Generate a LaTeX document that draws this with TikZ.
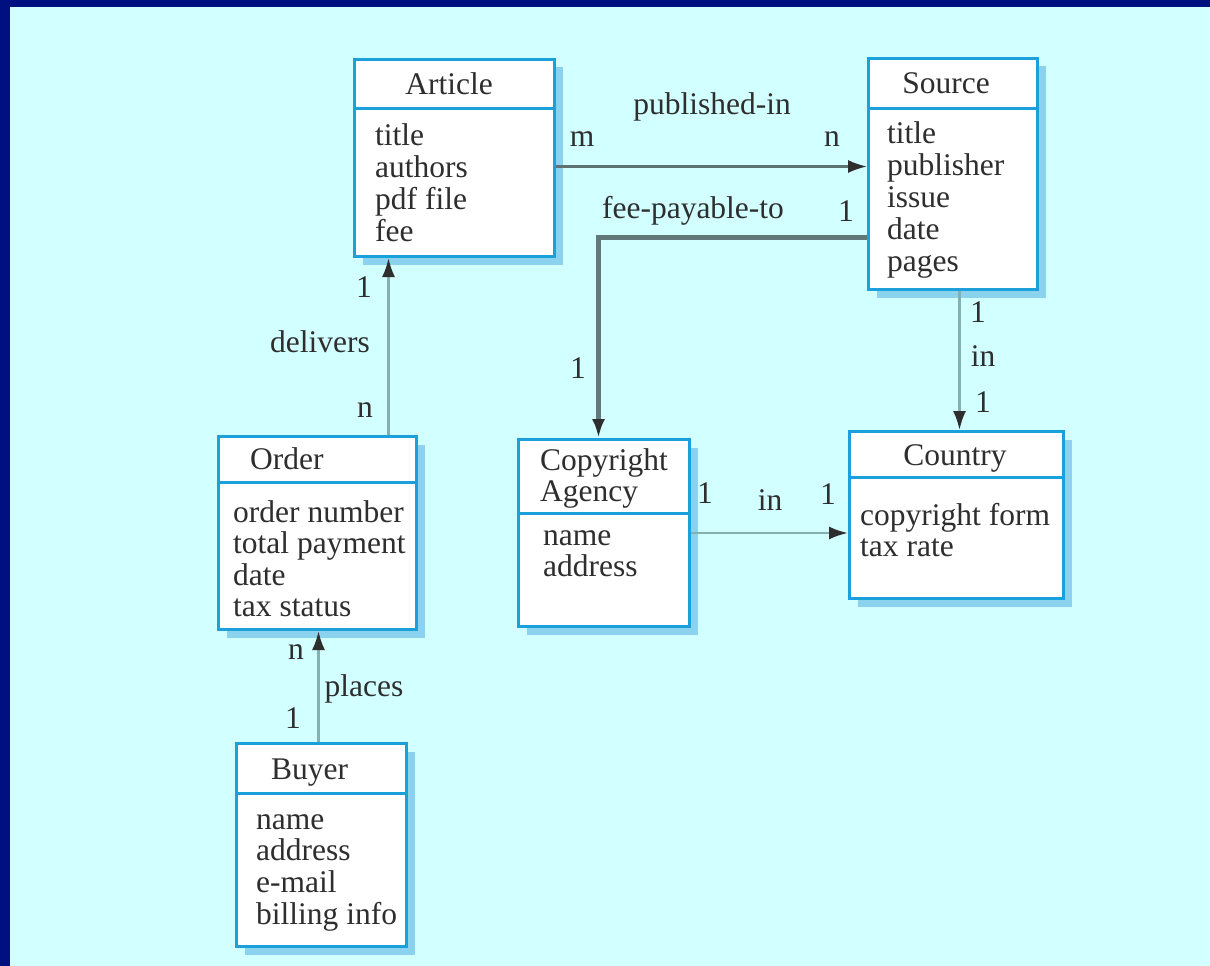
\documentclass[tikz,border=0pt]{standalone}
\usepackage{fontspec}
\setmainfont{Liberation Serif}
\usetikzlibrary{arrows.meta,shadows,positioning}
\definecolor{frameblue}{HTML}{001080}
\definecolor{paper}{HTML}{D2FFFF}
\definecolor{boxblue}{HTML}{1BA0DC}
\definecolor{shadeblue}{HTML}{8AD2EE}
\definecolor{ink}{HTML}{2E2E2E}
\definecolor{linkgray}{HTML}{5F7272}
\definecolor{linkteal}{HTML}{86B0B0}
\tikzset{
	entity/.style={draw=boxblue, line width=3pt, fill=white, anchor=north west, inner sep=0pt,
		drop shadow={shadow xshift=8pt, shadow yshift=-8pt, fill=shadeblue, opacity=1}},
	boxline/.style={draw=boxblue, line width=3pt},
	word/.style={text=ink, font=\fontsize{31.5}{32}\selectfont, inner sep=0pt},
	attr/.style={word, anchor=base west},
	head/.style={word, anchor=base},
	link/.style={->, draw=linkgray, line width=2.2pt},
	softlink/.style={->, draw=linkteal, line width=2.5pt},
	feelink/.style={->, draw=linkgray!90!linkteal, line width=5pt},
}

\begin{document}
\begin{tikzpicture}[x=1pt,y=-1pt,>={Latex[length=19pt,width=13pt,color=ink]}]
\useasboundingbox (0,0) rectangle (1210,966);
% the background
\fill[frameblue] (0,0) rectangle (1210,966);
\fill[paper] (10,7) rectangle (1210,966);

% the boxes
\foreach \n/\x/\y/\w/\h/\d in {art/353/58/200/197/50, src/867/57/169/231/51,
	ord/217/435/198/193/47, agy/517/438/171/187/75, cty/848/430/214/167/47,
	buy/235/742/170/203/51}
{
	\node[entity, minimum width=\w pt, minimum height=\h pt] (\n) at (\x,\y) {};
	\draw[boxline] ([yshift=-\d pt]\n.north west) -- ([yshift=-\d pt]\n.north east);
}

% the texts
\node[head] (art-head) at (449,95) {Article};
\foreach \t [count=\i from 0] in {title,authors,pdf file,fee}
	\node[attr] (art-\i) at (375,{145+32*\i}) {\t};

\node[head] (src-head) at (946,93) {Source};
\foreach \t [count=\i from 0] in {title,publisher,issue,date,pages}
	\node[attr] (src-\i) at (887,{143+32*\i}) {\t};

\node[attr] (ord-head) at (250,469) {Order};
\foreach \t [count=\i from 0] in {order number,total payment,date,tax status}
	\node[attr] (ord-\i) at (233,{522+31.5*\i}) {\t};

\node[attr] (agy-head) at (540,470) {Copyright};
\node[attr] (agy-head2) at (540,501) {Agency};
\foreach \t [count=\i from 0] in {name,address}
	\node[attr] (agy-\i) at (543,{545+31*\i}) {\t};

\node[head] (cty-head) at (955,465) {Country};
\foreach \t [count=\i from 0] in {copyright form,tax rate}
	\node[attr] (cty-\i) at (860,{525+31*\i}) {\t};

\node[attr] (buy-head) at (271,779) {Buyer};
\foreach \t [count=\i from 0] in {name,address,e-mail,billing info}
	\node[attr] (buy-\i) at (256,{829+31.7*\i}) {\t};

% the arrows
\draw[link] ([yshift=-8.5pt]art.east) -- ([yshift=-8.5pt]art.east -| src.west);
\draw[feelink] ([yshift=-63.5pt]src.west) -| ([xshift=-5.5pt]agy.north);
\draw[softlink] ([xshift=3pt]cty.north |- src.south) -- ([xshift=3pt]cty.north);
\draw[softlink] (agy.east) -- (agy.east -| cty.west);
\draw[softlink] ([xshift=71pt]ord.north) -- ([xshift=71pt]ord.north |- art.south);
\draw[softlink] ([xshift=-3pt]buy.north) -- ([xshift=-3pt]buy.north |- ord.south);

% the labels
\node[word] (pub-lbl) at (712,107) {published-in};
\node[word] (pub-m) at (582,139) {m};
\node[word] (pub-n) at (832,139) {n};
\node[word] (fee-lbl) at (693,211) {fee-payable-to};
\node[word] (fee-src) at (846,211) {1};
\node[word] (fee-agy) at (578,368) {1};
\node[word] (sin-1) at (978,312) {1};
\node[word] (sin-lbl) at (983,356) {in};
\node[word] (sin-2) at (983,402) {1};
\node[word] (ain-1) at (705,493) {1};
\node[word] (ain-lbl) at (770,500) {in};
\node[word] (ain-2) at (828,494) {1};
\node[word] (del-lbl) at (320,342) {delivers};
\node[word] (del-1) at (364,287) {1};
\node[word] (del-n) at (365,410) {n};
\node[word] (pla-lbl) at (364,689) {places};
\node[word] (pla-n) at (296,652) {n};
\node[word] (pla-1) at (293,718) {1};

\end{tikzpicture}
\end{document}
